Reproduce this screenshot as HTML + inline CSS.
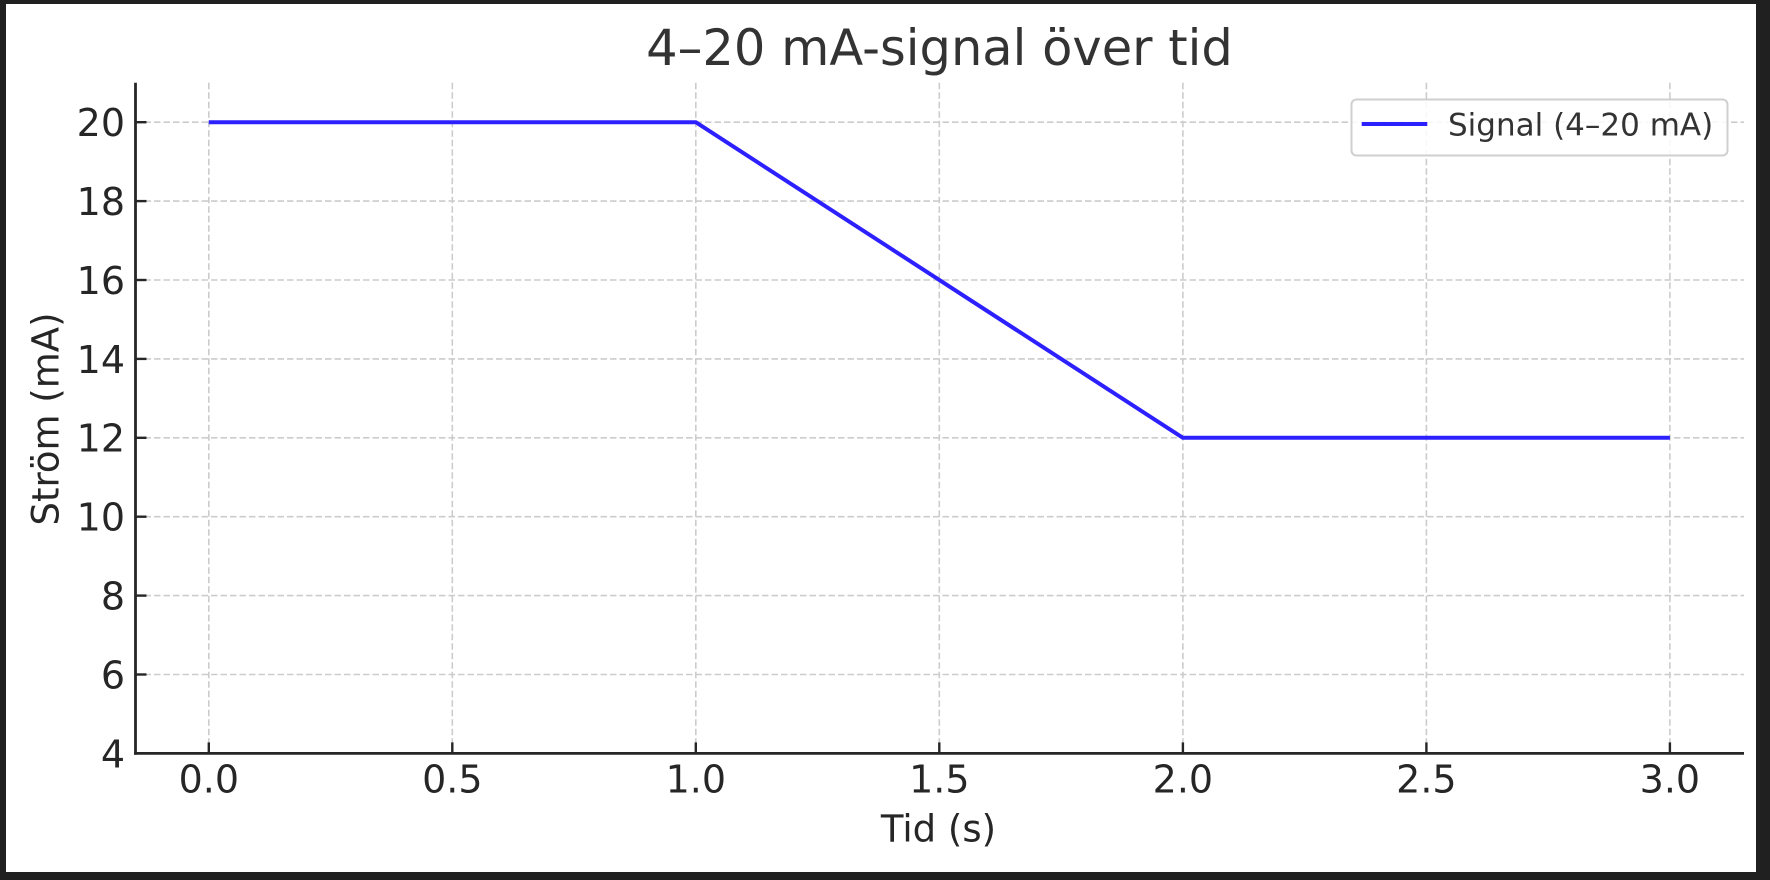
<!DOCTYPE html>
<html><head><meta charset="utf-8"><style>
html,body{margin:0;padding:0;background:#202020;}
svg{display:block;}
text{font-family:"DejaVu Sans","Liberation Sans",sans-serif;}
</style></head><body>
<svg width="1770" height="880" viewBox="0 0 1770 880" xmlns="http://www.w3.org/2000/svg">
<rect x="0" y="0" width="1770" height="880" fill="#202020"/>
<rect x="6" y="4" width="1750" height="868" fill="#ffffff"/>
<!-- grid -->
<g stroke="#cccccc" stroke-width="1.6" stroke-dasharray="6.5,3" fill="none">
<line x1="208.8" y1="82.7" x2="208.8" y2="753.4"/>
<line x1="452.3" y1="82.7" x2="452.3" y2="753.4"/>
<line x1="695.8" y1="82.7" x2="695.8" y2="753.4"/>
<line x1="939.3" y1="82.7" x2="939.3" y2="753.4"/>
<line x1="1182.9" y1="82.7" x2="1182.9" y2="753.4"/>
<line x1="1426.4" y1="82.7" x2="1426.4" y2="753.4"/>
<line x1="1669.9" y1="82.7" x2="1669.9" y2="753.4"/>
<line x1="135" y1="122.2" x2="1744" y2="122.2"/>
<line x1="135" y1="201.1" x2="1744" y2="201.1"/>
<line x1="135" y1="280" x2="1744" y2="280"/>
<line x1="135" y1="358.9" x2="1744" y2="358.9"/>
<line x1="135" y1="437.8" x2="1744" y2="437.8"/>
<line x1="135" y1="516.7" x2="1744" y2="516.7"/>
<line x1="135" y1="595.6" x2="1744" y2="595.6"/>
<line x1="135" y1="674.5" x2="1744" y2="674.5"/>
</g>
<!-- data line -->
<polyline points="208.8,122.2 695.8,122.2 1182.9,437.8 1669.9,437.8" fill="none" stroke="#2d20ff" stroke-width="4" stroke-linejoin="round" stroke-linecap="butt"/>
<!-- spines -->
<g stroke="#262626" stroke-width="2.8" fill="none">
<line x1="135.5" y1="82.7" x2="135.5" y2="754.8"/>
<line x1="134.1" y1="753.4" x2="1744" y2="753.4"/>
</g>
<!-- ticks (inward) -->
<g stroke="#262626" stroke-width="2.4">
<line x1="135.5" y1="122.2" x2="146.5" y2="122.2"/>
<line x1="135.5" y1="201.1" x2="146.5" y2="201.1"/>
<line x1="135.5" y1="280" x2="146.5" y2="280"/>
<line x1="135.5" y1="358.9" x2="146.5" y2="358.9"/>
<line x1="135.5" y1="437.8" x2="146.5" y2="437.8"/>
<line x1="135.5" y1="516.7" x2="146.5" y2="516.7"/>
<line x1="135.5" y1="595.6" x2="146.5" y2="595.6"/>
<line x1="135.5" y1="674.5" x2="146.5" y2="674.5"/>
<line x1="208.8" y1="753.4" x2="208.8" y2="742.4"/>
<line x1="452.3" y1="753.4" x2="452.3" y2="742.4"/>
<line x1="695.8" y1="753.4" x2="695.8" y2="742.4"/>
<line x1="939.3" y1="753.4" x2="939.3" y2="742.4"/>
<line x1="1182.9" y1="753.4" x2="1182.9" y2="742.4"/>
<line x1="1426.4" y1="753.4" x2="1426.4" y2="742.4"/>
<line x1="1669.9" y1="753.4" x2="1669.9" y2="742.4"/>
</g>
<!-- y tick labels -->
<g font-size="38" fill="#262626" text-anchor="end">
<text x="125" y="136">20</text>
<text x="125" y="215">18</text>
<text x="125" y="293.9">16</text>
<text x="125" y="372.8">14</text>
<text x="125" y="451.7">12</text>
<text x="125" y="530.6">10</text>
<text x="125" y="609.5">8</text>
<text x="125" y="688.4">6</text>
<text x="125" y="767.3">4</text>
</g>
<!-- x tick labels -->
<g font-size="38" fill="#262626" text-anchor="middle">
<text x="208.8" y="792.5">0.0</text>
<text x="452.3" y="792.5">0.5</text>
<text x="695.8" y="792.5">1.0</text>
<text x="939.3" y="792.5">1.5</text>
<text x="1182.9" y="792.5">2.0</text>
<text x="1426.4" y="792.5">2.5</text>
<text x="1669.9" y="792.5">3.0</text>
</g>
<!-- axis labels -->
<text x="938.5" y="841.7" font-size="37" fill="#262626" text-anchor="middle">Tid (s)</text>
<text transform="translate(58.5,419) rotate(-90)" x="0" y="0" font-size="37" fill="#262626" text-anchor="middle">Ström (mA)</text>
<!-- title -->
<text x="939.5" y="65" font-size="49.5" fill="#333333" text-anchor="middle">4–20 mA-signal över tid</text>
<!-- legend -->
<rect x="1351.5" y="99.5" width="376" height="56" rx="5" ry="5" fill="#ffffff" fill-opacity="0.85" stroke="#cfcfcf" stroke-width="2"/>
<line x1="1361.7" y1="124" x2="1427.3" y2="124" stroke="#2d20ff" stroke-width="4"/>
<text x="1448" y="135.5" font-size="31" fill="#333333">Signal (4–20 mA)</text>
</svg>
</body></html>
